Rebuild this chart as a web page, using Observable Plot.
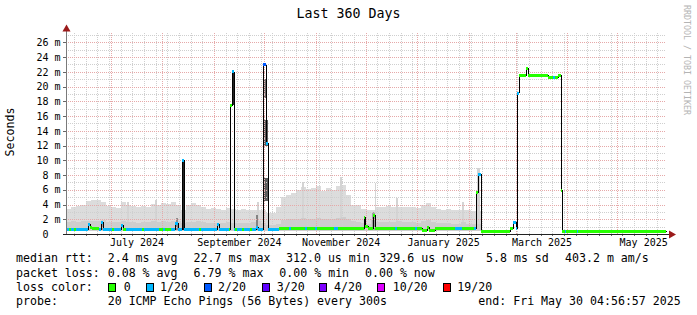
<!DOCTYPE html>
<html><head><meta charset="utf-8">
<script src="https://cdn.jsdelivr.net/npm/d3@7"></script>
<script src="https://cdn.jsdelivr.net/npm/@observablehq/plot@0.6"></script>
<style>
html,body{margin:0;padding:0;background:#fff;}
#wrap{position:relative;width:697px;height:315px;overflow:hidden;font-family:"DejaVu Sans Mono",monospace;color:#000;background:#fff;}
.t{position:absolute;white-space:pre;font-size:11.6px;line-height:1;}
.box{position:absolute;width:6px;height:7px;border:1px solid #000;}
</style></head><body><div id="wrap"></div>
<script>
// ---------- data ----------
const endTime = Date.UTC(2025, 4, 30, 4, 56, 57);
const spanDays = 360;
const binDays = 3;
const smokeMin = 0.45;
// smoke (light grey) upper edge per 3-day bin, ms
const smokeMax = [3.4,3.6,3.8,4.0,4.5,4.6,4.6,4.3,3.8,3.6, 3.5,4.3,3.9,3.8,3.6,3.8,3.7,4.1,4.0,4.2,
  4.1,4.3,3.9,3.2,4.0,4.2,3.9,3.6,3.4,3.5, 3.4,3.3,3.5,3.4,3.3,3.4,3.2,3.3,3.3,3.2,
  2.8,2.8,3.6,5.0,5.3,5.5,6.0,6.4,6.1,6.3, 6.5,5.9,6.3,6.0,6.5,6.6,5.3,4.0,3.9,3.4,
  3.2,3.3,3.7,3.6,3.8,3.7,3.7,3.6,3.6,3.7, 3.5,4.0,4.2,3.7,3.4,3.3,3.4,3.3,3.2,3.3,
  3.2,3.1,3.1];
// darker inner smoke band upper edge per bin, ms
const smokeMid = [1.6,1.7,1.6,1.7,1.8,1.8,1.7,1.9,1.6,1.6, 1.6,1.7,1.6,1.6,1.5,1.6,1.6,1.7,1.6,1.7,
  1.6,1.7,1.8,1.5,1.6,1.6,1.7,1.6,1.5,1.5, 1.5,1.5,1.6,1.5,1.5,1.5,1.5,1.6,1.7,1.5,
  1.2,1.2,1.4,1.9,2.0,2.0,2.1,2.2,2.1,2.1, 2.2,2.0,2.1,2.0,2.2,2.3,2.0,1.7,1.6,1.5,
  1.4,2.0,1.6,1.6,1.6,1.6,1.8,1.6,1.6,1.6, 1.5,1.8,1.9,1.6,1.5,1.5,1.5,1.4,1.4,1.6,
  1.4,1.4,1.4];
// narrow smoke spikes (day, top ms)
const spikeDay = [36.6, 53.4, 114.6, 141.6, 164.4, 185.2, 198.0, 237.6, 246.6, 247.6];
const spikeTop = [4.4, 4.6, 4.3, 7.1, 7.8, 6.9, 4.9, 4.4, 8.9, 8.9];
// dense (dark) smoke ranges
const darkStart = [21.0, 66.0, 69.6, 99.6, 114.0, 118.4, 118.4, 118.4, 178.8, 183.6];
const darkEnd   = [22.2, 67.2, 70.8, 100.5, 115.2, 121.0, 121.0, 119.8, 179.6, 185.4];
const darkLo    = [0.5, 0.5, 0.5, 17.5, 0.5, 4.5, 12.0, 18.5, 0.5, 0.5];
const darkHi    = [1.8, 2.2, 10.0, 22.1, 2.6, 7.6, 15.5, 21.0, 2.3, 3.0];
const darkLevel = [0.3, 0.4, 0.95, 0.95, 0.45, 0.65, 0.65, 0.55, 0.3, 0.3];
// median rtt step series: start day, value (ms), loss colour index
const medStart = [0.0,1.8,3.0,4.8,5.7,13.2,14.4,15.6,19.8,21.0,
  22.2,27.6,28.8,33.0,34.2,36.0,45.6,46.8,55.8,58.2,
  59.4,63.0,65.4,66.9,69.6,70.8,79.8,81.0,90.6,91.8,
  97.8,98.4,99.6,100.5,101.4,102.6,105.6,106.8,110.4,111.6,
  114.0,115.2,118.4,119.8,121.0,127.8,133.8,135.0,143.4,144.6,
  149.4,150.6,160.8,163.2,178.8,179.6,181.2,184.2,185.4,197.4,
  198.6,209.4,210.6,213.6,216.6,217.8,221.4,233.4,237.6,244.8,
  246.0,247.2,248.7,266.4,268.2,270.0,270.6,271.5,276.0,277.2,
  289.2,292.2,293.4,295.2,296.8,297.8,299.1,300.0,306.3,307.2];
const medValue = [0.65,0.65,0.65,0.65,0.65,1.3,1.0,0.75,0.65,1.65,
  0.65,0.65,0.65,1.2,0.7,0.65,0.65,0.65,0.7,0.65,
  0.7,0.65,1.5,0.65,10.0,0.65,0.65,0.65,1.3,0.65,
  0.65,17.5,22.1,0.65,0.65,0.65,0.65,0.65,0.65,0.65,
  1.0,0.65,23.0,12.3,0.65,0.85,0.85,0.85,0.85,0.85,
  0.85,0.85,0.85,0.85,2.3,1.1,0.85,2.6,0.85,0.85,
  0.85,0.85,0.8,0.6,1.0,0.5,0.75,0.8,0.8,0.8,
  5.7,8.2,0.4,0.8,1.65,0.8,19.2,21.6,22.55,21.6,
  21.3,21.3,21.3,21.6,5.96,0.4,0.4,0.4,0.4,0.4];
const medLoss = [1,0,1,0,1,1,0,0,1,1,
  1,0,1,1,0,1,0,1,0,1,
  0,1,1,1,1,1,0,1,1,1,
  0,0,1,1,0,1,0,1,0,1,
  1,1,2,1,1,0,1,0,1,0,
  1,0,1,0,0,0,0,0,0,1,
  0,1,0,0,0,0,0,1,0,1,
  0,1,0,0,1,1,1,0,0,0,
  0,1,0,0,0,0,1,0,1,0];
const lossColors = ["#26ff00","#00b8ff","#0059ff","#5e00ff","#7e00ff","#dd00ff","#ff0000"];
const lossLabels = ["0","1/20","2/20","3/20","4/20","10/20","19/20"];
const yTicks = [0,2,4,6,8,10,12,14,16,18,20,22,24,26];
const yMinorTicks = [1,3,5,7,9,11,13,15,17,19,21,23,25,27];
const labelMonths = ["2024-07","2024-09","2024-11","2025-01","2025-03","2025-05"];
const monthLabels = ["July 2024","September 2024","November 2024","January 2025","March 2025","May 2025"];
const titleText = "Last 360 Days";
const yLabelText = "Seconds";
const sideText = "RRDTOOL / TOBI OETIKER";
const statLines = [
  ["median rtt:", "2.4 ms avg", "22.7 ms max", "312.0 us min", "329.6 us now", "5.8 ms sd", "403.2 m am/s"],
  ["packet loss:", "0.08 % avg", "6.79 % max", "0.00 % min", "0.00 % now"]
];
const probeText = ["probe:", "20 ICMP Echo Pings (56 Bytes) every 300s", "end: Fri May 30 04:56:57 2025"];

// ---------- derived ----------
const startMs = endTime - spanDays * 864e5;
const toDay = d => (+d - startMs) / 864e5;
const startDate = new Date(startMs), endDate = new Date(endTime);
const weekDays = d3.utcSunday.range(startDate, endDate).map(toDay);
const monthDays = d3.utcMonth.range(startDate, endDate).map(toDay);
const labelPos = labelMonths.map(m => {
  const a = new Date(m + "-01T00:00:00Z");
  return (toDay(a) + toDay(d3.utcMonth.offset(a, 1))) / 2;
});
const yTop = 27.41;
const bins = smokeMax.map((m, i) => ({x1: i * binDays, x2: (i + 1) * binDays, max: m, mid: smokeMid[i]}));
const spikes = spikeDay.map((d, i) => ({x1: d, x2: d + 1, top: spikeTop[i]}));
const dark = darkStart.map((d, i) => ({x1: d, x2: darkEnd[i], lo: darkLo[i], hi: darkHi[i],
  c: d3.interpolateRgb("#d8d8d8", "#1a1a1a")(darkLevel[i])}));
const segs = medStart.map((d, i) => ({a: d, b: i + 1 < medStart.length ? medStart[i + 1] : spanDays,
  v: medValue[i], c: lossColors[medLoss[i]]}));
const medPts = segs.map(s => ({day: s.a, v: s.v})).concat([{day: spanDays, v: medValue[medValue.length - 1]}]);

const font = "DejaVu Sans Mono";
const minorGrid = "#cfcfcf", majorGrid = "#e6a9a9";

const chart = Plot.plot({
  width: 697, height: 250,
  marginLeft: 66, marginRight: 31, marginTop: 32, marginBottom: 16,
  x: {domain: [0, spanDays], axis: null},
  y: {domain: [0, yTop], axis: null},
  color: {type: "identity"},
  style: {fontFamily: font, fontSize: "10px", background: "transparent", overflow: "visible"},
  marks: [
    Plot.rect(bins, {x1: "x1", x2: "x2", y1: smokeMin, y2: "max", fill: "#dcdcdc", shapeRendering: "crispEdges"}),
    Plot.rect(spikes, {x1: "x1", x2: "x2", y1: smokeMin, y2: "top", fill: "#d4d4d4", shapeRendering: "crispEdges"}),
    Plot.rect(bins, {x1: "x1", x2: "x2", y1: smokeMin, y2: "mid", fill: "#cdcdcd", shapeRendering: "crispEdges"}),
    Plot.rect(dark, {x1: "x1", x2: "x2", y1: "lo", y2: "hi", fill: "c", shapeRendering: "crispEdges"}),
    // grid
    Plot.ruleY(yMinorTicks, {x1: 0, x2: spanDays, stroke: minorGrid, strokeDasharray: "1,1", shapeRendering: "crispEdges"}),
    Plot.ruleX(weekDays, {y1: 0, y2: yTop, stroke: minorGrid, strokeDasharray: "1,1", shapeRendering: "crispEdges"}),
    Plot.ruleY(yTicks.filter(v => v > 0), {x1: 0, x2: spanDays, stroke: majorGrid, strokeDasharray: "1,1", shapeRendering: "crispEdges"}),
    Plot.ruleX(monthDays, {y1: 0, y2: yTop, stroke: majorGrid, strokeDasharray: "1,1", shapeRendering: "crispEdges"}),
    // median
    Plot.line(medPts, {x: "day", y: "v", curve: "step-after", stroke: "#000", strokeWidth: 1, shapeRendering: "crispEdges"}),
    Plot.ruleY(segs, {x1: "a", x2: "b", y: "v", stroke: "c", strokeWidth: 3, shapeRendering: "crispEdges"}),
    // axes
    Plot.ruleY(yTicks, {x1: -1.8, x2: 0, stroke: "#666", shapeRendering: "crispEdges"}),
    Plot.ruleX(weekDays, {y1: -0.3, y2: 0, stroke: "#666", shapeRendering: "crispEdges"}),
    Plot.ruleX([0], {y1: 0, y2: yTop + 0.1, stroke: "#7a7a7a", shapeRendering: "crispEdges"}),
    Plot.ruleY([0], {x1: -2, x2: 361.8, stroke: "#222", shapeRendering: "crispEdges"}),
    Plot.dot([0], {x: 0, y: yTop + 0.45, symbol: "triangle", r: 3, fill: "#9b1a1a", stroke: null}),
    Plot.dot([0], {x: 362.9, y: 0, symbol: "triangle", r: 3, rotate: 90, fill: "#9b1a1a", stroke: null}),
    // tick labels
    Plot.text(yTicks.filter(v => v > 0), {x: 0, y: d => d, text: d => d + " m", textAnchor: "end", dx: -6, lineAnchor: "middle", fontFamily: font, fontSize: 10, fill: "#000"}),
    Plot.text([0], {x: 0, y: 0, text: () => "0", textAnchor: "end", dx: -18, lineAnchor: "middle", fontFamily: font, fontSize: 10, fill: "#000"}),
    Plot.text(labelPos, {x: d => d, y: 0, dy: 8.5, text: (d, i) => monthLabels[i], textAnchor: "middle", lineAnchor: "middle", fontFamily: font, fontSize: 10, fill: "#000"})
  ]
});

const wrap = document.getElementById("wrap");
chart.style.position = "absolute";
chart.style.left = "0px";
chart.style.top = "0px";
wrap.appendChild(chart);

function addText(txt, left, baseline, size, extra) {
  const el = document.createElement("div");
  el.className = "t";
  el.textContent = txt;
  el.style.fontSize = size + "px";
  el.style.left = left + "px";
  el.style.top = (baseline - 0.846 * size) + "px";
  if (extra) Object.assign(el.style, extra);
  wrap.appendChild(el);
  return el;
}
// title
const tt = addText(titleText, 0, 18, 13.3, {width: "697px", textAlign: "center"});
tt.style.left = "0px";
// y label
const yl = document.createElement("div");
yl.className = "t";
yl.textContent = yLabelText;
Object.assign(yl.style, {fontSize: "11.6px", left: "11px", top: "132px", transform: "translate(-50%,-50%) rotate(-90deg)"});
wrap.appendChild(yl);
// side watermark
const sd = document.createElement("div");
sd.className = "t";
sd.textContent = sideText;
Object.assign(sd.style, {fontSize: "8.3px", color: "#b4b4b4", left: "687px", top: "60px", transform: "translate(-50%,-50%) rotate(90deg)"});
wrap.appendChild(sd);

// stat lines
const line1X = [16, 107.7, 193.6, 286, 379.3, 486, 565];
const line2X = [16, 107.7, 193.6, 279.3, 365];
statLines[0].forEach((s, i) => addText(s, line1X[i], 263, 11.6));
statLines[1].forEach((s, i) => addText(s, line2X[i], 277.5, 11.6));
// loss colour legend
addText("loss color:", 16, 291.5, 11.6);
const boxX = [108, 145.5, 203.8, 261.7, 319.3, 377.3, 442.7];
const labX = [123.7, 160, 218, 276.7, 334, 392.7, 457.3];
lossColors.forEach((c, i) => {
  const b = document.createElement("div");
  b.className = "box";
  b.style.left = boxX[i] + "px";
  b.style.top = "283px";
  b.style.background = c;
  wrap.appendChild(b);
  addText(lossLabels[i], labX[i], 291.5, 11.6);
});
addText(probeText[0], 16, 306, 11.6);
addText(probeText[1], 107.7, 306, 11.6);
addText(probeText[2], 478.3, 306, 11.6);
</script></body></html>
